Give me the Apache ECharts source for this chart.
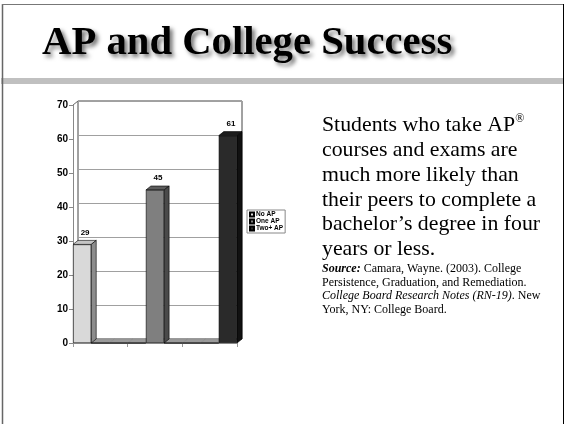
<!DOCTYPE html>
<html><head><meta charset="utf-8">
<script src="https://cdn.jsdelivr.net/npm/echarts@6/dist/echarts.min.js"></script>
<style>html,body{margin:0;padding:0;background:#fff}#c{width:564px;height:424px}</style>
</head><body><div id="c"></div>
<script>
// ---- data ----
var categories = ['', '', ''];
var seriesNames = ['No AP', 'One AP', 'Two+ AP'];
var noAP = [29, 0, 0];
var oneAP = [0, 45, 0];
var twoAP = [0, 0, 61];
var yTicks = [0, 10, 20, 30, 40, 50, 60, 70];

var frontColors = ['#d9d9d9', '#7f7f7f', '#2a2a2a'];
var sideColors = ['#8c8c8c', '#4a4a4a', '#111111'];
var topColors = ['#c4c4c4', '#5c5c5c', '#1c1c1c'];
var allSeries = [noAP, oneAP, twoAP];

var DX = 5, DY = -4;

var faceData = [];
allSeries.forEach(function (arr, s) {
  arr.forEach(function (v, i) { faceData.push([i, v, s]); });
});

var chart = echarts.init(document.getElementById('c'), null, {renderer: 'canvas'});

var barSeries = allSeries.map(function (arr, s) {
  return {
    name: seriesNames[s], type: 'bar', xAxisIndex: 0, yAxisIndex: 0,
    data: arr, barGap: '0%', barCategoryGap: '0%',
    itemStyle: {color: frontColors[s], borderColor: '#000', borderWidth: 0.6},
    label: {
      show: true, position: 'top', offset: [3, -3],
      fontSize: 8, fontWeight: 'bold', fontFamily: 'Arial', color: '#000',
      formatter: function (p) { return p.value ? String(p.value) : ''; }
    },
    z: 3
  };
});

var option = {
  animation: false,
  backgroundColor: '#fff',
  grid: [
    {left: 73, top: 105, width: 164, height: 238, show: false},
    {left: 78, top: 101, width: 164, height: 238, show: true, borderColor: '#444', borderWidth: 1}
  ],
  xAxis: [
    {gridIndex: 0, type: 'category', data: categories,
     axisLine: {show: true, lineStyle: {color: '#999'}},
     axisTick: {show: true, length: 4, lineStyle: {color: '#999'}},
     axisLabel: {show: false}},
    {gridIndex: 1, type: 'category', data: categories, show: false}
  ],
  yAxis: [
    {gridIndex: 0, type: 'value', min: yTicks[0], max: yTicks[yTicks.length - 1], interval: 10,
     axisLine: {show: true, lineStyle: {color: '#888'}},
     axisTick: {show: true, length: 4, lineStyle: {color: '#888'}},
     axisLabel: {show: true, margin: 5, fontSize: 10, fontWeight: 'bold', fontFamily: 'Arial', color: '#000'},
     splitLine: {show: false}},
    {gridIndex: 1, type: 'value', min: yTicks[0], max: yTicks[yTicks.length - 1], interval: 10,
     axisLine: {show: false}, axisTick: {show: false}, axisLabel: {show: false},
     splitLine: {show: true, lineStyle: {color: '#a0a0a0', width: 1}}}
  ],
  legend: {
    orient: 'vertical', left: 247, top: 210,
    data: seriesNames, icon: 'rect', itemWidth: 4, itemHeight: 4, itemGap: 0,
    padding: [1, 2, 1, 2], borderColor: '#888', borderWidth: 1,
    textStyle: {fontSize: 6.5, lineHeight: 6, fontWeight: 'bold', fontFamily: 'Arial', color: '#000', padding: [0, 0, 0, -3]},
    selectedMode: false
  },
  series: barSeries.concat([{
    type: 'custom', xAxisIndex: 0, yAxisIndex: 0, z: 2,
    data: faceData,
    renderItem: function (params, api) {
      var i = api.value(0), v = api.value(1), s = api.value(2);
      var band = api.size([1, 0])[0];
      var w = band / 3;
      var cx = api.coord([i, 0])[0];
      var xL = cx - band / 2 + s * w, xR = xL + w;
      var yB = api.coord([i, 0])[1];
      var yT = api.coord([i, v])[1];
      var children = [];
      var topFill = v ? topColors[s] : '#9a9a9a';
      children.push({
        type: 'polygon', z2: v ? 10 : 1,
        shape: {points: [[xL, yT], [xL + DX, yT + DY], [xR + DX, yT + DY], [xR, yT]]},
        style: {fill: topFill, stroke: v ? '#000' : '#8a8a8a', lineWidth: 0.6}
      });
      if (v) {
        children.push({
          type: 'polygon', z2: 10,
          shape: {points: [[xR, yT], [xR + DX, yT + DY], [xR + DX, yB + DY], [xR, yB]]},
          style: {fill: sideColors[s], stroke: '#000', lineWidth: 0.6}
        });
      }
      return {type: 'group', children: children};
    }
  }]),
  graphic: [
    {type: 'rect', shape: {x: 1, y: 78, width: 563, height: 6}, style: {fill: '#c0c0c0'}, z: 0},
    {type: 'line', shape: {x1: 2.5, y1: 4, x2: 2.5, y2: 424}, style: {stroke: '#666', lineWidth: 1.5}},
    {type: 'line', shape: {x1: 2, y1: 4.5, x2: 564, y2: 4.5}, style: {stroke: '#777', lineWidth: 1}},
    {type: 'line', shape: {x1: 563.5, y1: 4, x2: 563.5, y2: 424}, style: {stroke: '#000', lineWidth: 1}},
    {type: 'line', shape: {x1: 73, y1: 105, x2: 78, y2: 101}, style: {stroke: '#666', lineWidth: 1}},
    {type: 'text', left: 42, top: 23,
     style: {text: 'AP and College Success', font: 'bold 40.7px "Liberation Serif", serif', fill: '#000',
       textShadowColor: 'rgba(0,0,0,0.55)', textShadowBlur: 4, textShadowOffsetX: 3, textShadowOffsetY: 3}},
    {type: 'text', left: 322, top: 113,
     style: {text: 'Students who take AP{sup|®}\ncourses and exams are\nmuch more likely than\ntheir peers to complete a\nbachelor\u2019s degree in four\nyears or less.',
       font: '21.8px "Liberation Serif", serif', lineHeight: 24.8, fill: '#000',
       rich: {sup: {fontSize: 12, fontFamily: 'Liberation Serif', verticalAlign: 'top', lineHeight: 24.8, padding: [0, 0, 8, 0]}}}},
    {type: 'text', left: 322, top: 262,
     style: {text: '{bi|Source:} Camara, Wayne. (2003). College\nPersistence, Graduation, and Remediation.\n{i|College Board Research Notes (RN-19)}. New\nYork, NY: College Board.',
       font: '12px "Liberation Serif", serif', lineHeight: 13.7, fill: '#000',
       rich: {
         bi: {fontStyle: 'italic', fontWeight: 'bold', fontSize: 12, fontFamily: 'Liberation Serif', lineHeight: 13.7},
         i: {fontStyle: 'italic', fontSize: 12, fontFamily: 'Liberation Serif', lineHeight: 13.7}
       }}}
  ]
};
chart.setOption(option);
</script>
</body></html>
